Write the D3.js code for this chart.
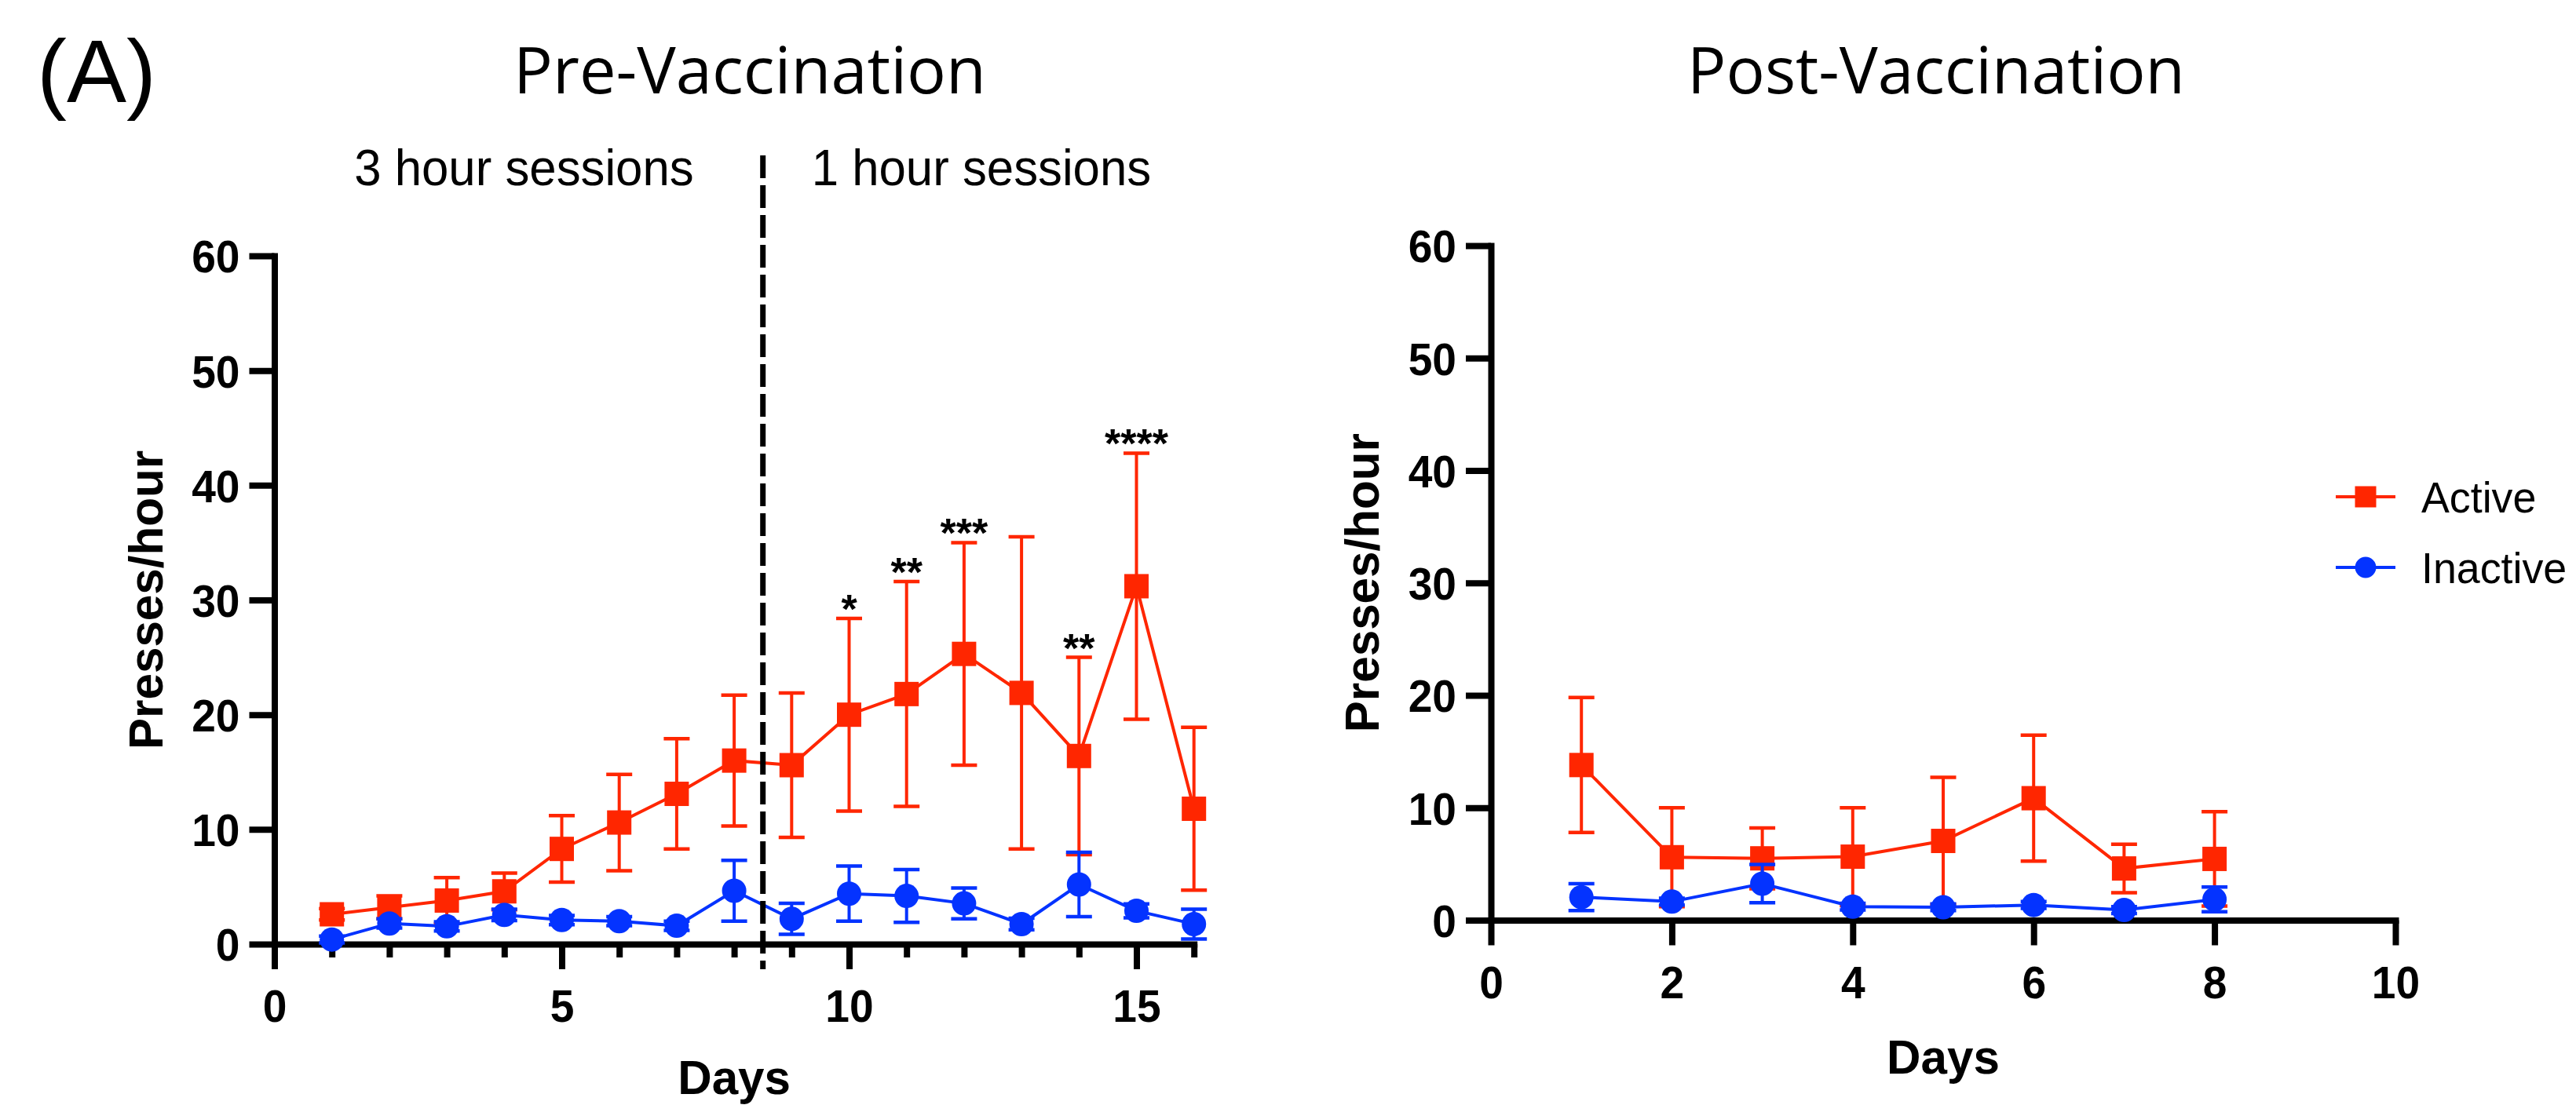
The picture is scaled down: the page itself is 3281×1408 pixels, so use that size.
<!DOCTYPE html>
<html><head><meta charset="utf-8">
<script src="https://cdn.jsdelivr.net/npm/d3@7"></script>
<style>
html,body{margin:0;padding:0;background:#fff;}
svg{display:block;background:#fff;}
text{font-variant-ligatures:none;font-feature-settings:"liga" 0, "clig" 0, "dlig" 0, "calt" 0;}
</style></head><body>
<svg id="chart" width="3281" height="1408"></svg>
<script>
// ---------------- DATA ----------------
const preDays = [1,2,3,4,5,6,7,8,9,10,11,12,13,14,15,16];
const preActive = [2.6,3.2,3.8,4.6,8.3,10.6,13.1,16.0,15.6,20.0,21.8,25.3,21.9,16.4,31.2,11.8];
const preActiveErr = [0.5,1.0,2.0,1.6,2.9,4.2,4.8,5.7,6.3,8.4,9.8,9.7,13.6,8.6,11.6,7.1];
const preInactive = [0.4,1.8,1.55,2.55,2.1,2.0,1.6,4.65,2.2,4.4,4.2,3.55,1.75,5.2,2.9,1.75];
const preInactiveErr = [0.3,0.4,0.4,0.5,0.4,0.4,0.4,2.65,1.35,2.4,2.3,1.35,0.5,2.8,0.6,1.3];
const preStarDays = [10,11,12,14,15];
const preStarLabels = ["*","**","***","**","****"];
const sessionSplitDay = 8.5;

const postDays = [1,2,3,4,5,6,7,8];
const postActive = [13.8,5.6,5.5,5.65,7.05,10.85,4.6,5.45];
const postActiveErr = [6.0,4.4,2.7,4.35,5.65,5.6,2.15,4.2];
const postInactive = [2.05,1.65,3.25,1.2,1.15,1.35,0.9,1.85];
const postInactiveErr = [1.2,0.3,1.7,0.3,0.3,0.3,0.3,1.1];

const yTicks = [0,10,20,30,40,50,60];
const preXTicks = [0,1,2,3,4,5,6,7,8,9,10,11,12,13,14,15,16];
const preXLabels = [0,5,10,15];
const postXTicks = [0,2,4,6,8,10];
const postXLabels = [0,2,4,6,8,10];

const seriesNames = ["Active","Inactive"];
const RED = "#FF2600", BLUE = "#0433FF";
const PRISM_FONT = "'Liberation Sans', Arial, Helvetica, sans-serif";
const TITLE_FONT = "'Open Sans', 'Noto Sans', sans-serif";

// ---------------- DRAW ----------------
const svg = d3.select("#chart");
svg.append("rect").attr("width",3281).attr("height",1408).attr("fill","#fff");

function cond(sel, k){
  sel.each(function(){
    const L = this.getComputedTextLength();
    if (L > 0) { this.setAttribute("textLength", L*k); this.setAttribute("lengthAdjust","spacingAndGlyphs"); }
  });
}

function drawPanel(cfg){
  const g = svg.append("g");
  const x = d3.scaleLinear().domain(cfg.xDomain).range(cfg.xRange);
  const y = d3.scaleLinear().domain([0,60]).range(cfg.yRange);

  // X axis
  const xa = g.append("g").attr("transform", `translate(0,${y(0)})`)
    .call(d3.axisBottom(x).tickValues(cfg.xTicks)
      .tickFormat(d => cfg.xLabels.includes(d) ? d : "")
      .tickSize(32).tickSizeOuter(0));
  xa.select(".domain").attr("stroke","#000").attr("stroke-width",8).attr("stroke-linecap","square");
  xa.selectAll(".tick line").attr("stroke","#000").attr("stroke-width",8)
    .attr("y2", d => cfg.xLabels.includes(d) ? 32 : 17);
  xa.selectAll(".tick text").attr("y",99).attr("dy",0).attr("fill","#000")
    .attr("font-family",PRISM_FONT).attr("font-weight","bold").attr("font-size",58);

  // Y axis
  const ya = g.append("g").attr("transform", `translate(${x(0)},0)`)
    .call(d3.axisLeft(y).tickValues(yTicks).tickSize(32).tickSizeOuter(0).tickPadding(12));
  ya.select(".domain").attr("stroke","#000").attr("stroke-width",8).attr("stroke-linecap","square");
  ya.selectAll(".tick line").attr("stroke","#000").attr("stroke-width",8);
  ya.selectAll(".tick text").attr("dy","0.36em").attr("fill","#000")
    .attr("font-family",PRISM_FONT).attr("font-weight","bold").attr("font-size",58);
  cond(xa.selectAll(".tick text"),0.95);
  cond(ya.selectAll(".tick text"),0.95);

  // Axis titles
  const xMid = (cfg.xRange[0]+cfg.xRange[1])/2;
  const yMid = (y(0)+y(60))/2;
  const tx = g.append("text").attr("x",xMid).attr("y",Math.min(y(0)+195,1394)).attr("text-anchor","middle")
    .attr("font-family",PRISM_FONT).attr("font-weight","bold").attr("font-size",62).text("Days");
  const ty = g.append("text").attr("transform",`translate(${x(0)-143},${yMid}) rotate(-90)`)
    .attr("text-anchor","middle")
    .attr("font-family",PRISM_FONT).attr("font-weight","bold").attr("font-size",62).text("Presses/hour");
  cond(tx,0.97); cond(ty,0.97);

  // Title
  g.append("text").attr("x",cfg.titleX).attr("y",119)
    .attr("font-family",TITLE_FONT).attr("font-size",82)
    .attr("textLength",cfg.titleLen).attr("lengthAdjust","spacingAndGlyphs")
    .text(cfg.title);

  // Series
  const series = [
    {name:"Active", vals:cfg.active, errs:cfg.activeErr, color:RED, shape:"square"},
    {name:"Inactive", vals:cfg.inactive, errs:cfg.inactiveErr, color:BLUE, shape:"circle"}
  ];
  series.forEach(s => {
    const pts = cfg.days.map((d,i)=>({d, v:s.vals[i], e:s.errs[i]}));
    const sg = g.append("g");
    // error bars
    const eb = sg.selectAll("g.eb").data(pts).join("g").attr("class","eb");
    eb.append("line").attr("x1",p=>x(p.d)).attr("x2",p=>x(p.d))
      .attr("y1",p=>y(p.v+p.e)).attr("y2",p=>y(Math.max(0,p.v-p.e)))
      .attr("stroke",s.color).attr("stroke-width",4);
    eb.append("line").attr("x1",p=>x(p.d)-16.5).attr("x2",p=>x(p.d)+16.5)
      .attr("y1",p=>y(p.v+p.e)).attr("y2",p=>y(p.v+p.e))
      .attr("stroke",s.color).attr("stroke-width",4.5);
    eb.append("line").attr("x1",p=>x(p.d)-16.5).attr("x2",p=>x(p.d)+16.5)
      .attr("y1",p=>y(Math.max(0,p.v-p.e))).attr("y2",p=>y(Math.max(0,p.v-p.e)))
      .attr("stroke",s.color).attr("stroke-width",4.5);
    // connecting line
    sg.append("path").datum(pts)
      .attr("d", d3.line().x(p=>x(p.d)).y(p=>y(p.v)))
      .attr("fill","none").attr("stroke",s.color).attr("stroke-width",4);
    // markers
    if (s.shape==="square"){
      sg.selectAll("rect.m").data(pts).join("rect").attr("class","m")
        .attr("x",p=>x(p.d)-15.5).attr("y",p=>y(p.v)-15.5)
        .attr("width",31).attr("height",31).attr("fill",s.color);
    } else {
      sg.selectAll("circle.m").data(pts).join("circle").attr("class","m")
        .attr("cx",p=>x(p.d)).attr("cy",p=>y(p.v)).attr("r",15.5).attr("fill",s.color);
    }
  });

  // significance stars
  if (cfg.starDays){
    g.selectAll("text.star").data(cfg.starDays).join("text").attr("class","star")
      .attr("x",d=>x(d)).attr("y",(d)=>{ const i = cfg.days.indexOf(d); return y(cfg.active[i]+cfg.activeErr[i]) + 6; })
      .attr("text-anchor","middle").attr("font-family",PRISM_FONT).attr("font-weight","bold")
      .attr("font-size",52).text((d,i)=>cfg.starLabels[i]);
  }

  // session split
  if (cfg.split !== undefined){
    g.append("line").attr("x1",x(cfg.split)).attr("x2",x(cfg.split))
      .attr("y1",198).attr("y2",y(0)+32)
      .attr("stroke","#000").attr("stroke-width",7).attr("stroke-dasharray","29,9");
    const t3 = g.append("text").attr("x",x(cfg.split)-88).attr("y",236).attr("text-anchor","end")
      .attr("font-family",PRISM_FONT).attr("font-size",65).text("3 hour sessions");
    const t1 = g.append("text").attr("x",x(cfg.split)+62).attr("y",236).attr("text-anchor","start")
      .attr("font-family",PRISM_FONT).attr("font-size",65).text("1 hour sessions");
    cond(t3,0.95); cond(t1,0.95);
  }
  return {x,y};
}

drawPanel({
  xDomain:[0,16], xRange:[349.5,1520.7], yRange:[1203,326],
  xTicks:preXTicks, xLabels:preXLabels, days:preDays,
  active:preActive, activeErr:preActiveErr, inactive:preInactive, inactiveErr:preInactiveErr,
  starDays:preStarDays, starLabels:preStarLabels, split:sessionSplitDay,
  title:"Pre-Vaccination", titleX:654, titleLen:602
});
drawPanel({
  xDomain:[0,10], xRange:[1899,3051], yRange:[1172.5,313],
  xTicks:postXTicks, xLabels:postXLabels, days:postDays,
  active:postActive, activeErr:postActiveErr, inactive:postInactive, inactiveErr:postInactiveErr,
  title:"Post-Vaccination", titleX:2149, titleLen:634
});

// Panel letter
svg.append("text").attr("x",47).attr("y",130).attr("font-family",PRISM_FONT)
  .attr("font-size",114).text("(A)");

// Legend
const legY = d3.scaleBand().domain(seriesNames).range([588,768]);
const leg = svg.append("g");
seriesNames.forEach((n,i)=>{
  const cy = legY(n) + legY.bandwidth()/2;
  const col = i===0 ? RED : BLUE;
  leg.append("line").attr("x1",2975).attr("x2",3051).attr("y1",cy).attr("y2",cy)
    .attr("stroke",col).attr("stroke-width",4);
  if (i===0) leg.append("rect").attr("x",3013-13.5).attr("y",cy-13.5).attr("width",27).attr("height",27).attr("fill",col);
  else leg.append("circle").attr("cx",3013).attr("cy",cy).attr("r",13.4).attr("fill",col);
  const t = leg.append("text").attr("x",3084).attr("y",cy+20).attr("font-family",PRISM_FONT)
    .attr("font-size",56).text(n);
  cond(t,0.96);
});
</script>
</body></html>
